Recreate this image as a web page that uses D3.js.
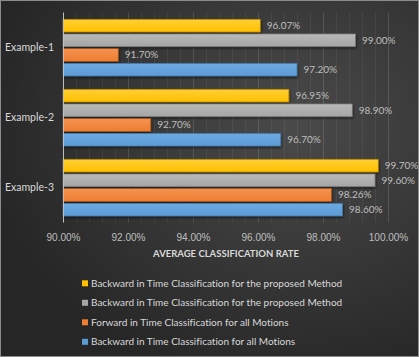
<!DOCTYPE html>
<meta charset="utf-8">
<style>
	body { margin: 0; background: #222; }
	svg { display: block; font-family: Lato, "Open Sans", sans-serif; font-variant-ligatures: none; }
	.tick text { fill: #bfbfbf; font-size: 10px; }
	.label { fill: #bfbfbf; font-size: 10px; }
	.cat { fill: #d9d9d9; font-size: 10.5px; }
	.legend text { fill: #d9d9d9; font-size: 10px; }
</style>
<body>
<svg id="chart"></svg>
<script src="https://cdn.jsdelivr.net/npm/d3@7/dist/d3.min.js"></script>
<script>
	// data
	var categories = ["Example-1", "Example-2", "Example-3"];
	var seriesNames = [
		"Backward in Time Classification for the proposed Method",
		"Backward in Time Classification for the proposed Method",
		"Forward in Time Classification for all Motions",
		"Backward in Time Classification for all Motions"
	];
	var yellowValues = [96.07, 96.95, 99.70];
	var grayValues   = [99.00, 98.90, 99.60];
	var orangeValues = [91.70, 92.70, 98.26];
	var blueValues   = [97.20, 96.70, 98.60];
	var xTicks = [90, 92, 94, 96, 98, 100];

	var colors = ["#ffc000", "#a5a5a5", "#ed7d31", "#5b9bd5"];
	var lighter = ["#ffcf33", "#b9b9b9", "#f4934f", "#6eaae2"];
	var edges = ["#b38600", "#777777", "#a6561f", "#3f72a0"];

	var allValues = [yellowValues, grayValues, orangeValues, blueValues];

	var W = 419, H = 357;
	var svg = d3.select("#chart").attr("width", W).attr("height", H);
	var defs = svg.append("defs");

	var bg = defs.append("radialGradient").attr("id", "bg")
		.attr("cx", "70%").attr("cy", "35%").attr("r", "75%");
	bg.append("stop").attr("offset", "0%").attr("stop-color", "#4a4a4a");
	bg.append("stop").attr("offset", "100%").attr("stop-color", "#262626");

	colors.forEach(function(c, i) {
		var g = defs.append("linearGradient").attr("id", "bar" + i)
			.attr("x1", 0).attr("y1", 0).attr("x2", 0).attr("y2", 1);
		g.append("stop").attr("offset", "0%").attr("stop-color", lighter[i]);
		g.append("stop").attr("offset", "100%").attr("stop-color", c);
	});

	var sh = defs.append("filter").attr("id", "shadow")
		.attr("x", "-5%").attr("y", "-30%").attr("width", "110%").attr("height", "180%");
	sh.append("feDropShadow").attr("dx", 0.5).attr("dy", 1.5)
		.attr("stdDeviation", 0.8).attr("flood-color", "#000").attr("flood-opacity", 0.6);

	svg.append("rect").attr("x", 0.5).attr("y", 0.5)
		.attr("width", W - 1).attr("height", H - 1)
		.attr("fill", "url(#bg)").attr("stroke", "#8c8c8c");

	var x = d3.scaleLinear().domain([90, 100]).range([63, 388]);
	var y0 = d3.scaleBand().domain(categories).range([12.5, 222.5]);
	var y1 = d3.scaleBand().domain(d3.range(4)).range([6.8, 63.5]).paddingInner(0.134);

	// gridlines, minor every 0.4%
	var minor = d3.range(90.4, 100.01, 0.4);
	svg.append("g").selectAll("line").data(minor).enter().append("line")
		.attr("x1", function(d) { return Math.round(x(d)) + 0.5; })
		.attr("x2", function(d) { return Math.round(x(d)) + 0.5; })
		.attr("y1", 12.5).attr("y2", 222.5)
		.attr("stroke", function(d) {
			var major = Math.abs(d / 2 - Math.round(d / 2)) < 0.01;
			return major ? "rgba(255,255,255,0.13)" : "rgba(255,255,255,0.06)";
		});

	// bars
	var groups = svg.append("g").selectAll("g").data(categories).enter().append("g")
		.attr("transform", function(d) { return "translate(0," + y0(d) + ")"; });

	groups.selectAll("rect")
		.data(function(d, ci) { return allValues.map(function(v, si) { return { s: si, v: v[ci] }; }); })
		.enter().append("rect")
		.attr("x", x(90))
		.attr("y", function(d) { return y1(d.s); })
		.attr("width", function(d) { return x(d.v) - x(90); })
		.attr("height", y1.bandwidth())
		.attr("fill", function(d) { return "url(#bar" + d.s + ")"; })
		.attr("stroke", function(d) { return edges[d.s]; })
		.attr("stroke-width", 0.7)
		.attr("filter", "url(#shadow)");

	groups.selectAll("text.label")
		.data(function(d, ci) { return allValues.map(function(v, si) { return { s: si, v: v[ci] }; }); })
		.enter().append("text").attr("class", "label")
		.attr("x", function(d) { return x(d.v) + 6.5; })
		.attr("y", function(d) { return y1(d.s) + y1.bandwidth() / 2; })
		.attr("dy", "0.35em")
		.text(function(d) { return d.v.toFixed(2) + "%"; });

	// category labels
	svg.append("g").selectAll("text").data(categories).enter().append("text")
		.attr("class", "cat")
		.attr("x", 54).attr("y", function(d) { return y0(d) + y0.bandwidth() / 2; })
		.attr("dy", "0.35em").attr("text-anchor", "end")
		.text(function(d) { return d; });

	// vertical axis line
	svg.append("line").attr("x1", 63.5).attr("x2", 63.5)
		.attr("y1", 12.5).attr("y2", 222.5).attr("stroke", "#bfbfbf");

	// x axis
	var xAxis = svg.append("g").attr("transform", "translate(0,222)")
		.call(d3.axisBottom(x).tickValues(xTicks).tickSize(0).tickPadding(12)
			.tickFormat(function(d) { return d.toFixed(2) + "%"; }));
	xAxis.select(".domain").remove();

	svg.append("text").attr("x", 226).attr("y", 254).attr("dy", "0.35em")
		.attr("text-anchor", "middle").attr("fill", "#d9d9d9")
		.attr("font-size", "9.5px").attr("font-weight", "bold")
		.text("AVERAGE CLASSIFICATION RATE");

	// legend
	var legend = svg.append("g").attr("class", "legend").selectAll("g")
		.data(seriesNames).enter().append("g")
		.attr("transform", function(d, i) { return "translate(82," + (283.3 + i * 19.5) + ")"; });
	legend.append("rect").attr("x", 0).attr("y", -3).attr("width", 6).attr("height", 6)
		.attr("fill", function(d, i) { return colors[i]; });
	legend.append("text").attr("x", 9).attr("dy", "0.35em")
		.text(function(d) { return d; });
</script>
</body>
